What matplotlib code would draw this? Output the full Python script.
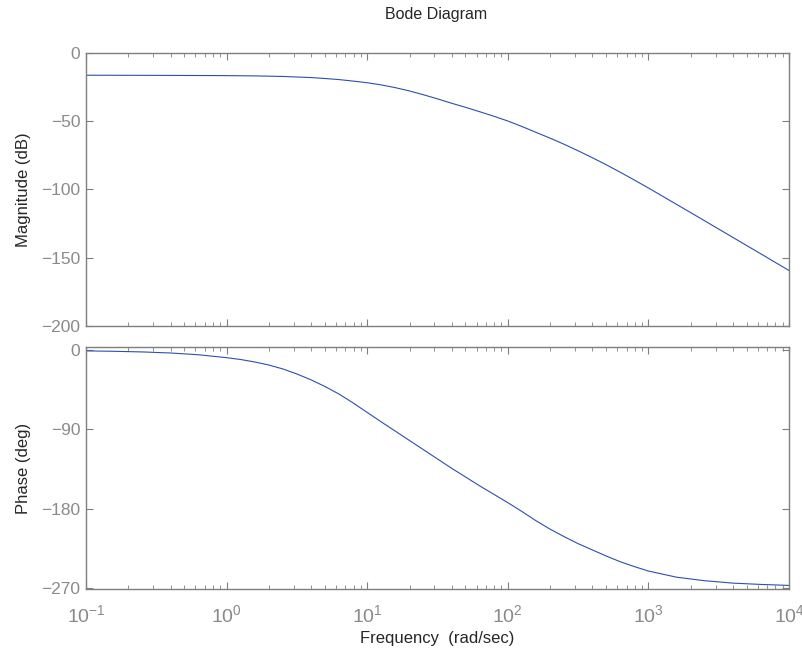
import numpy as np
import matplotlib
matplotlib.use("Agg")
import matplotlib.pyplot as plt
from matplotlib.ticker import LogLocator, NullFormatter

plt.rcParams['font.family'] = ['Liberation Sans', 'DejaVu Sans']
plt.rcParams['mathtext.default'] = 'regular'

# frequency response, sampled every 0.1 decade of log10(w)
mag_logw = [-1.0, -0.5, 0.0, 0.2, 0.4, 0.6, 0.7, 0.8, 0.9,
            1.0, 1.1, 1.2, 1.3, 1.4, 1.5, 1.6, 1.7, 1.8, 1.9,
            2.0, 2.1, 2.2, 2.3, 2.4, 2.5, 2.6, 2.7, 2.8, 2.9,
            3.0, 3.1, 3.2, 3.3, 3.4, 3.5, 3.6, 3.7, 3.8, 3.9, 4.0]
mag_db = [-16.5, -16.6, -16.8, -17.0, -17.4, -18.2, -18.9, -19.7, -20.8,
          -22.0, -23.6, -25.6, -28.0, -30.8, -33.8, -37.0, -40.0, -43.2, -46.5,
          -50.0, -54.0, -58.3, -62.5, -67.0, -71.8, -76.8, -82.0, -87.5, -93.2,
          -99.0, -105.0, -111.0, -117.0, -123.0, -129.1, -135.1, -141.2, -147.2,
          -153.3, -159.4]

phase_logw = [-1.0, -0.8, -0.6, -0.4, -0.2, 0.0, 0.1, 0.2, 0.3, 0.4, 0.5,
              0.6, 0.7, 0.8, 0.9, 1.0, 1.1, 1.2, 1.3, 1.4, 1.5, 1.6, 1.7,
              1.8, 1.9, 2.0, 2.1, 2.2, 2.3, 2.4, 2.5, 2.6, 2.7, 2.8, 2.9,
              3.0, 3.2, 3.4, 3.6, 3.8, 4.0]
phase_deg = [-1.0, -1.5, -2.2, -3.4, -5.4, -8.7, -10.8, -13.6, -17.0, -21.5,
             -27.2, -33.8, -41.4, -50.0, -60.0, -70.8, -81.5, -92.0, -102.5,
             -113.0, -123.5, -134.0, -144.0, -154.0, -163.5, -173.0, -183.0,
             -193.5, -203.0, -211.5, -219.5, -226.5, -233.5, -240.0, -245.5,
             -250.5, -257.5, -261.5, -264.2, -265.7, -266.8]

mag_ticks = [0, -50, -100, -150, -200]
phase_ticks = [0, -90, -180, -270]

w_mag = 10.0 ** np.array(mag_logw)
w_phase = 10.0 ** np.array(phase_logw)

line_col = '#2d4fae'
axis_col = '#7f7f7f'
tick_col = '#8a8a8a'
text_col = '#262626'

fig = plt.figure(figsize=(8.03, 6.51), dpi=100)
ax1 = fig.add_axes([0.1071, 0.4992, 0.8755, 0.4199])
ax2 = fig.add_axes([0.1071, 0.0948, 0.8755, 0.3726])

ax1.semilogx(w_mag, mag_db, color=line_col, lw=0.8)
ax2.semilogx(w_phase, phase_deg, color=line_col, lw=0.8)

ax1.set_ylim(-200, 0)
ax2.set_ylim(-271.2, 3.7)
ax1.set_yticks(mag_ticks)
ax2.set_yticks(phase_ticks)

for ax in (ax1, ax2):
    ax.set_xlim(0.1, 1e4)
    ax.xaxis.set_major_locator(LogLocator(base=10, numticks=10))
    ax.xaxis.set_minor_locator(LogLocator(base=10, subs=np.arange(2, 10), numticks=20))
    ax.xaxis.set_minor_formatter(NullFormatter())
    for s in ax.spines.values():
        s.set_color(axis_col)
        s.set_linewidth(1.0)
    ax.tick_params(which='both', direction='in', top=True, right=True,
                   color=axis_col, labelcolor=tick_col, labelsize=12.5)
    ax.tick_params(which='major', length=5, width=0.8)
    ax.tick_params(which='minor', length=3, width=0.6)
    ax.yaxis.set_tick_params(pad=4)

ax1.tick_params(labelbottom=False)
ax2.tick_params(axis='x', pad=11, labelsize=14)

ax1.set_ylabel('Magnitude (dB)', fontsize=12, color=text_col)
ax2.set_ylabel('Phase (deg)', fontsize=12, color=text_col)
ax1.yaxis.set_label_coords(-0.078, 0.5)
ax2.yaxis.set_label_coords(-0.078, 0.5)
ax2.set_xlabel('Frequency  (rad/sec)', fontsize=12, color=text_col, labelpad=3)

fig.text(0.543, 0.978, 'Bode Diagram', ha='center', va='center',
         fontsize=11.5, color=text_col)

fig.savefig('out.png', dpi=100)
